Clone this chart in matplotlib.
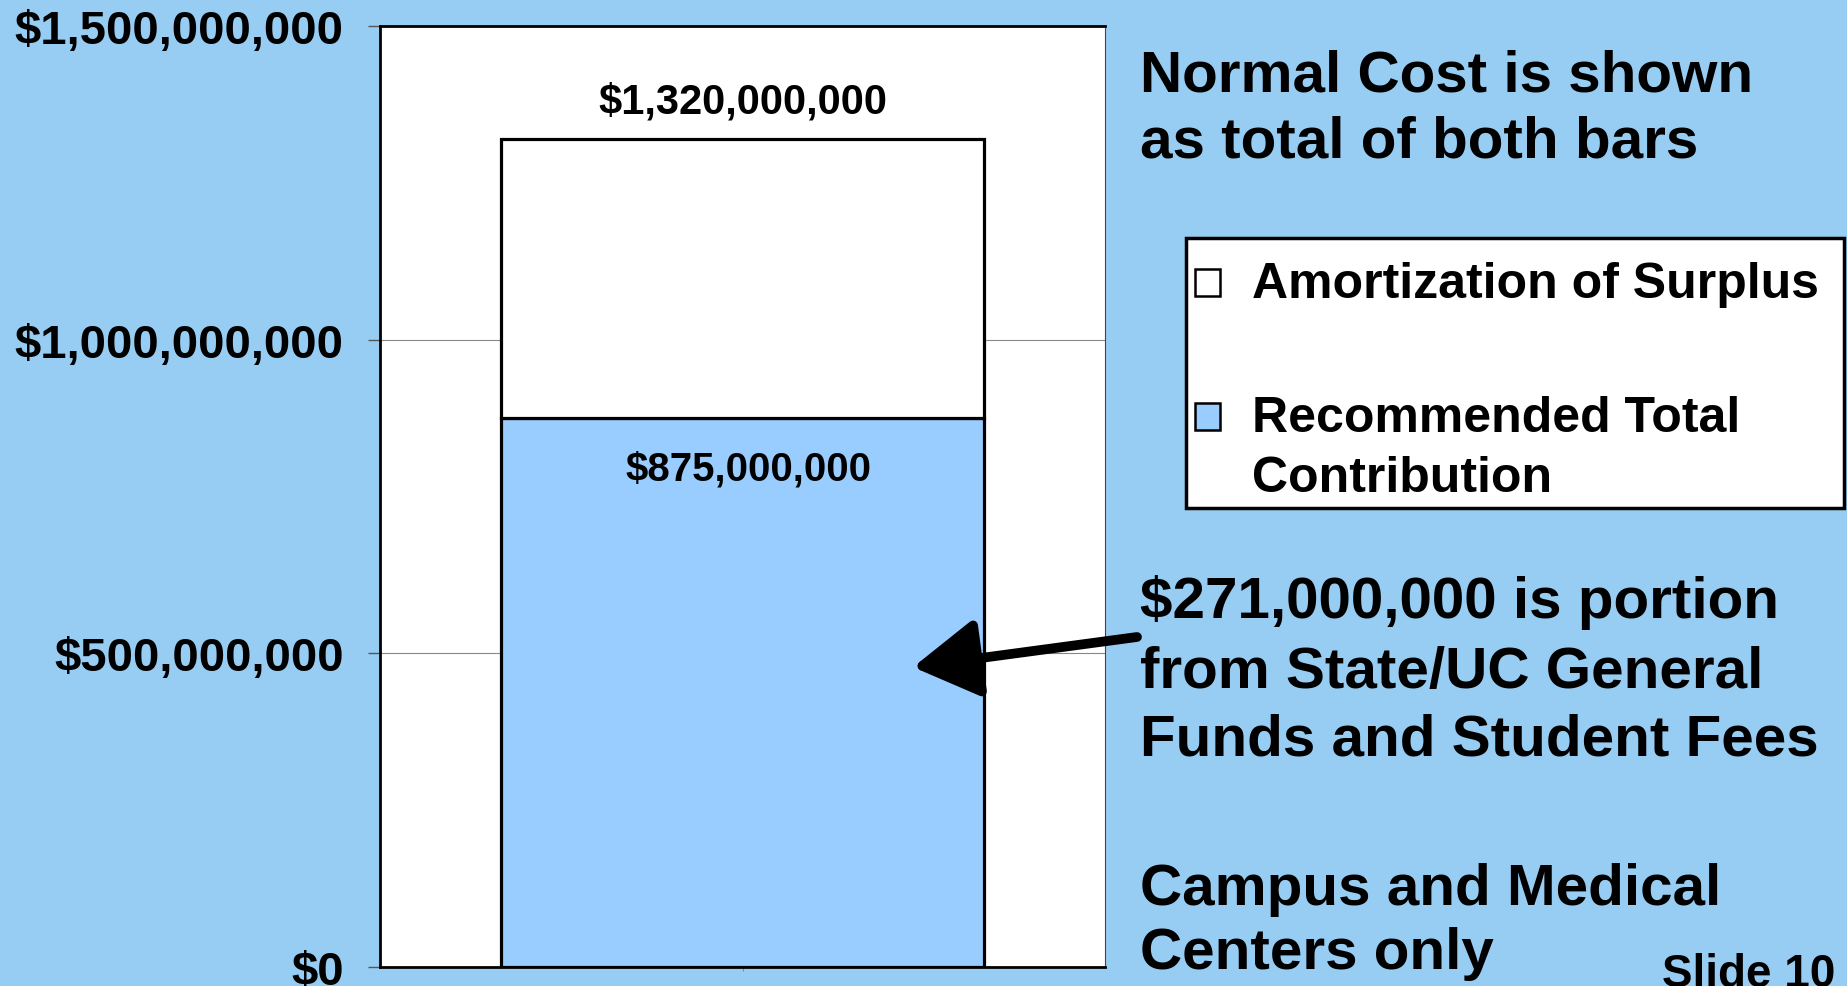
import numpy as np
import matplotlib
matplotlib.use('Agg')
import matplotlib.pyplot as plt
from matplotlib.patches import Rectangle
from matplotlib.ticker import FuncFormatter

plt.rcParams['font.family'] = ['Liberation Sans', 'DejaVu Sans']
plt.rcParams['font.weight'] = 'bold'

# data
categories = ['']
contribution = [875000000]          # recommended total contribution
amortization = [445000000]          # amortization of surplus (stacked on top)
totals = [c + a for c, a in zip(contribution, amortization)]
yticks = [0, 500000000, 1000000000, 1500000000]
legend_labels = ['Amortization of Surplus', 'Recommended Total\nContribution']
side_notes = ['Normal Cost is shown\nas total of both bars',
              '$271,000,000 is portion\nfrom State/UC General\nFunds and Student Fees',
              'Campus and Medical\nCenters only']

BG = '#97CDF2'
BLUE = '#99CCFF'
W, H = 1847, 987

fig = plt.figure(figsize=(W/100, H/100), dpi=100, facecolor=BG)
ax = fig.add_axes([380/W, 1-968/H, 725/W, 941/H])
ax.set_facecolor('white')

x = np.arange(len(categories))
ax.bar(x, contribution, width=1.0, color=BLUE, edgecolor='black', linewidth=2.3, zorder=2)
ax.bar(x, amortization, bottom=contribution, width=1.0, color='white',
       edgecolor='black', linewidth=2.3, zorder=2)

ax.set_xlim(-0.75, 0.75)
ax.set_ylim(0, 1500000000)
ax.set_yticks(yticks)
ax.yaxis.set_major_formatter(FuncFormatter(lambda v, p: '${:,.0f}'.format(v)))
ax.set_xticks(x)
ax.set_xticklabels(categories)
ax.tick_params(axis='y', direction='out', length=9, width=1, color='#555555',
               pad=17, labelsize=34)
ax.tick_params(axis='x', direction='out', length=3, width=0.8, color='#888888')
ax.grid(axis='y', color='#888888', linewidth=0.8)
ax.set_axisbelow(True)
for s in ['left', 'bottom', 'top']:
    ax.spines[s].set_linewidth(2)
    ax.spines[s].set_color('black')
ax.spines['right'].set_linewidth(0.8)
ax.spines['right'].set_color('#444444')

# bar value labels
for xi, t in zip(x, totals):
    ax.annotate('${:,.0f}'.format(t), xy=(xi, t), xytext=(0, 19),
                textcoords='offset points', ha='center', va='baseline',
                fontsize=30, fontweight='bold')
for xi, c in zip(x, contribution):
    ax.annotate('${:,.0f}'.format(c), xy=(xi, c), xytext=(4, -44),
                textcoords='offset points', ha='center', va='baseline',
                fontsize=29, fontweight='bold')

# overlay in pixel coords for slide texts
ov = fig.add_axes([0, 0, 1, 1], facecolor='none')
ov.set_xlim(0, W)
ov.set_ylim(H, 0)
ov.axis('off')


def lines(xp, baselines, txt, size, **kw):
    for yb, ln in zip(baselines, txt.split('\n')):
        ov.text(xp, yb, ln, fontsize=size, fontweight='bold', va='baseline', **kw)


lines(1140, [92, 157], side_notes[0], 42)
lines(1140, [618, 688, 756], side_notes[1], 42)
lines(1140, [905, 969], side_notes[2], 42)
ov.text(1835, 987, 'Slide 10', fontsize=33, fontweight='bold', ha='right', va='baseline')

# legend box
ov.add_patch(Rectangle((1186, 239), 658, 270, facecolor='white', edgecolor='black',
                       linewidth=2.5, zorder=3))
ov.add_patch(Rectangle((1195, 270), 25, 27, facecolor='white', edgecolor='black',
                       linewidth=1.8, zorder=4))
ov.add_patch(Rectangle((1195, 404), 25, 27, facecolor=BLUE, edgecolor='black',
                       linewidth=1.8, zorder=4))
lines(1252, [298], legend_labels[0], 36, zorder=5)
lines(1252, [432, 492], legend_labels[1], 36, zorder=5)

# arrow from note into the bar
ax.annotate('', xy=(0.353, 478000000), xycoords='data',
            xytext=(1137, 638), textcoords=ov.transData,
            arrowprops=dict(arrowstyle='-|>,head_length=0.4,head_width=0.24',
                            mutation_scale=100, lw=7, color='black',
                            shrinkA=0, shrinkB=0),
            annotation_clip=False, zorder=10)

fig.savefig('out.png', dpi=100, facecolor=BG)
